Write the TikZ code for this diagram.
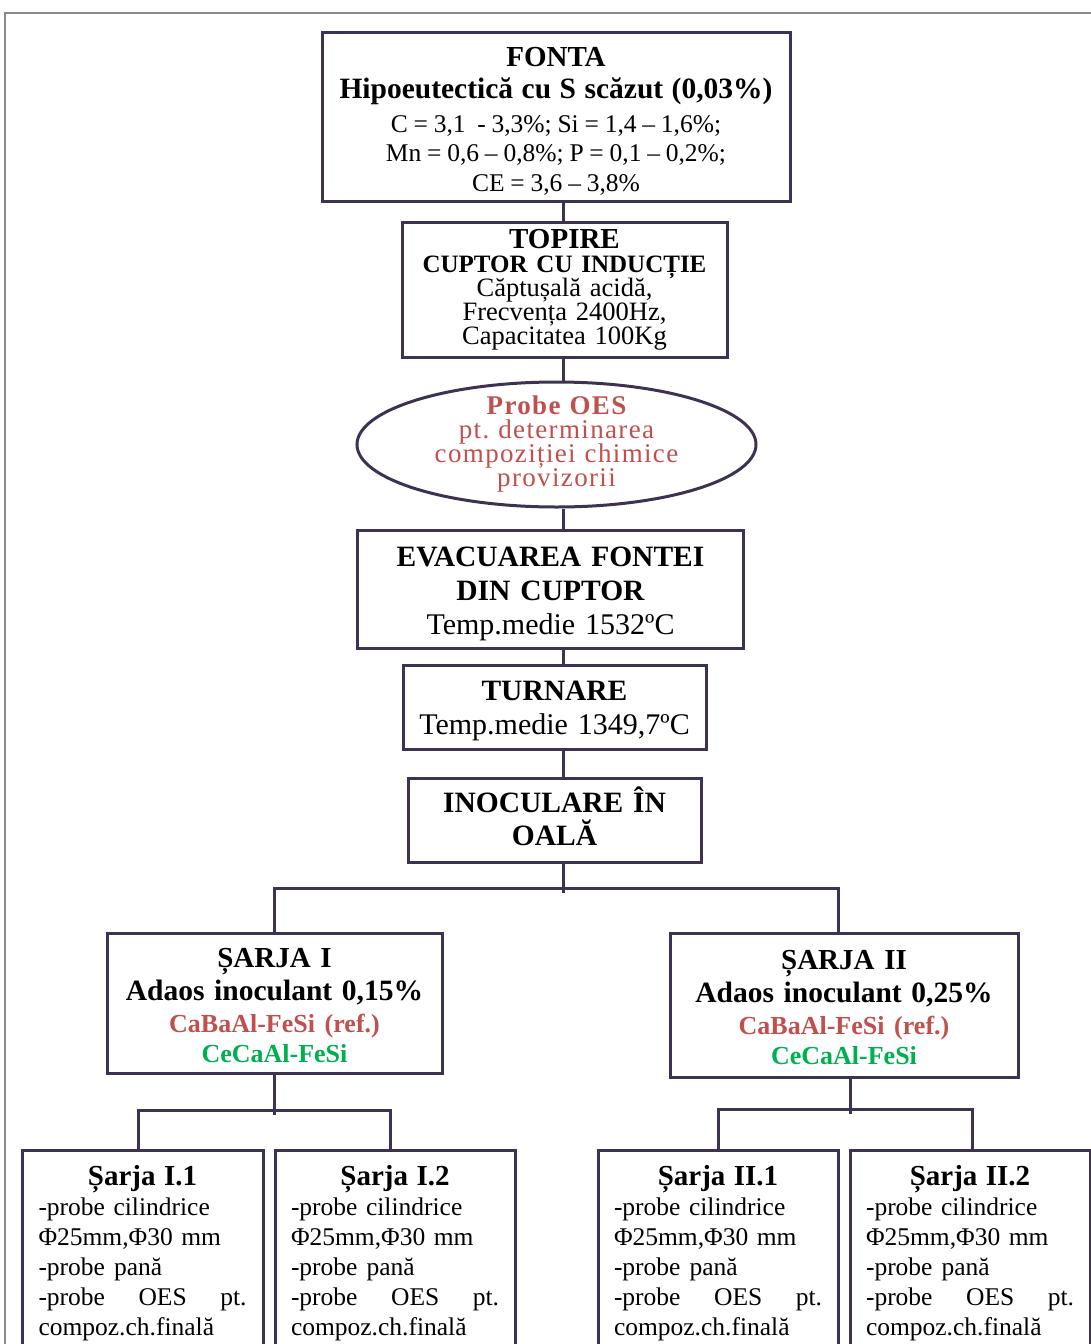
\documentclass[tikz,border=0pt]{standalone}
\usepackage{fontspec}
\setmainfont{Liberation Serif}
\usetikzlibrary{calc,shapes.geometric}
\definecolor{edgec}{RGB}{62,50,82}
\definecolor{redt}{RGB}{192,80,77}
\definecolor{greent}{RGB}{0,176,80}
\definecolor{framec}{RGB}{138,138,138}
\newcommand\fz[2]{\fontsize{#1pt}{#2pt}\selectfont\lineskiplimit=-100pt\lineskip=0pt\frenchspacing\relax}
\newcommand\lz[1]{\fontsize{#1pt}{#1pt}\selectfont}
\newcommand\tsp{\spaceskip=0.227em\relax}
\newcommand\upstrut[1]{\rule{0pt}{#1pt}}
\newcommand\dnstrut[1]{\rule[-#1pt]{0pt}{0pt}}
\tikzset{
  box/.style={draw=edgec, line width=3pt, fill=white, inner sep=0pt, align=center},
  leaf/.style={box, minimum width=241pt, minimum height=206pt, text width=208pt, align=left, font=\fz{25.5}{30}},
  conn/.style={draw=edgec, line width=3pt},
}
\begin{document}
\begin{tikzpicture}[x=1pt,y=-1pt]
\useasboundingbox (0,0) rectangle (1091,1344);
\clip (0,0) rectangle (1091,1344);
\draw[framec, line width=2.5pt] (5,13) rectangle (1120,1380);

\coordinate (spine) at (563,0);

\node[box, minimum width=468pt, minimum height=169pt, text width=460pt, font=\fz{25.5}{29.5}] (fonta) at (556,116.5)
 {\upstrut{28}{\lz{29}\bfseries FONTA}\\[3pt]
  {\lz{29.5}\bfseries Hipoeutectică cu S scăzut (0,03\%)}\\[4pt]
  {\tsp C = 3,1\ \ - 3,3\%; Si = 1,4 – 1,6\%;}\\
  {\tsp Mn = 0,6 – 0,8\%; P = 0,1 – 0,2\%;}\\
  {\tsp CE = 3,6 – 3,8\%}};

\node[box, minimum width=325pt, minimum height=135pt, text width=318pt, font=\fz{26.5}{24}] (topire) at (564.5,289.5)
 {{\lz{29}\bfseries TOPIRE}\\
  {\lz{25}\bfseries CUPTOR CU INDUCȚIE}\\
  Căptușală acidă,\\
  Frecvența 2400Hz,\\
  Capacitatea 100Kg};

\node[ellipse, draw=edgec, line width=3pt, fill=white, inner sep=-15pt, minimum width=399pt, minimum height=125pt,
      text width=260pt, align=center, text=redt, font=\fz{27}{24}\addfontfeature{LetterSpace=5}] (oes) at (556.5,444.5)
 {{\bfseries Probe OES}\\
  pt. determinarea\\
  compoziției chimice\\
  provizorii};

\node[box, minimum width=386pt, minimum height=118pt, text width=378pt, font=\fz{30}{34}] (evac) at (550.5,589.5)
 {\upstrut{27.5}{\lz{29.5}\bfseries EVACUAREA FONTEI}\\
  {\lz{29.5}\bfseries DIN CUPTOR}\\
  Temp.medie 1532ºC};

\node[box, minimum width=303pt, minimum height=84pt, text width=296pt, font=\fz{30}{34}] (turn) at (554.5,707)
 {\upstrut{27.5}{\lz{29.5}\bfseries TURNARE}\\
  Temp.medie 1349,7ºC};

\node[box, minimum width=293pt, minimum height=84pt, text width=286pt, font=\fz{29.5}{33}\bfseries] (inoc) at (554.5,820)
 {INOCULARE ÎN\\ OALĂ\dnstrut{7}};

\node[box, minimum width=335pt, minimum height=140pt, text width=328pt, font=\fz{29}{33}] (s1) at (274.5,1003)
 {\upstrut{24}{\bfseries ȘARJA I}\\
  {\lz{29.5}\bfseries Adaos inoculant 0,15\%}\\[-1pt]
  {\lz{26}\bfseries\color{redt}CaBaAl-FeSi (ref.)}\\[-3pt]
  {\lz{26}\bfseries\color{greent}CeCaAl-FeSi}};

\node[box, minimum width=348pt, minimum height=144pt, text width=340pt, font=\fz{29}{33}] (s2) at (844,1005)
 {\upstrut{24}{\bfseries ȘARJA II}\\
  {\lz{29.5}\bfseries Adaos inoculant 0,25\%}\\[-1pt]
  {\lz{26}\bfseries\color{redt}CaBaAl-FeSi (ref.)}\\[-3pt]
  {\lz{26}\bfseries\color{greent}CeCaAl-FeSi}};

\node[leaf] (a1) at (142.5,1253)
 {\makebox[\linewidth]{\lz{29}\bfseries Șarja I.1}\\
  -probe cilindrice\\
  Φ25mm,Φ30 mm\\
  -probe\hspace{9pt}pană\\
  \makebox[\linewidth][s]{-probe\hfill OES\hfill pt.}\\
  compoz.ch.finală};
\node[leaf, minimum width=240pt] (a2) at (395,1253)
 {\makebox[\linewidth]{\lz{29}\bfseries Șarja I.2}\\
  -probe cilindrice\\
  Φ25mm,Φ30 mm\\
  -probe\hspace{9pt}pană\\
  \makebox[\linewidth][s]{-probe\hfill OES\hfill pt.}\\
  compoz.ch.finală};
\node[leaf, minimum width=240pt] (b1) at (718,1253)
 {\makebox[\linewidth]{\lz{29}\bfseries Șarja II.1}\\
  -probe cilindrice\\
  Φ25mm,Φ30 mm\\
  -probe\hspace{9pt}pană\\
  \makebox[\linewidth][s]{-probe\hfill OES\hfill pt.}\\
  compoz.ch.finală};
\node[leaf, minimum width=240pt] (b2) at (970,1253)
 {\makebox[\linewidth]{\lz{29}\bfseries Șarja II.2}\\
  -probe cilindrice\\
  Φ25mm,Φ30 mm\\
  -probe\hspace{9pt}pană\\
  \makebox[\linewidth][s]{-probe\hfill OES\hfill pt.}\\
  compoz.ch.finală};

% spine connectors
\draw[conn] (fonta.south -| spine) -- (topire.north -| spine);
\draw[conn] (topire.south -| spine) -- (oes.north -| spine);
\draw[conn] (oes.south -| spine) -- (evac.north -| spine);
\draw[conn] (evac.south -| spine) -- (turn.north -| spine);
\draw[conn] (turn.south -| spine) -- (inoc.north -| spine);

% first branch
\coordinate (bus1) at ($(inoc.south -| spine)+(0,25)$);
\coordinate (s2in) at ($(s2.north)+(-6,0)$);
\draw[conn] (inoc.south -| spine) -- ($(bus1)+(0,4)$);
\draw[conn] (s1.north) |- (bus1) -| (s2in);

% left sub-branch
\coordinate (bus2) at ($(s1.south)+(0,36)$);
\coordinate (a1in) at ($(a1.north)+(-4.5,0)$);
\coordinate (a2in) at ($(a2.north)+(-5,0)$);
\draw[conn] (s1.south) -- ($(bus2)+(0,4)$);
\draw[conn] (a1in) |- (bus2) -| (a2in);

% right sub-branch
\coordinate (s2out) at ($(s2.south)+(6,0)$);
\coordinate (bus3) at ($(s2out)+(0,31)$);
\coordinate (b2in) at ($(b2.north)+(2,0)$);
\draw[conn] (s2out) -- ($(bus3)+(0,4)$);
\draw[conn] (b1.north) |- (bus3) -| (b2in);
\end{tikzpicture}
\end{document}
